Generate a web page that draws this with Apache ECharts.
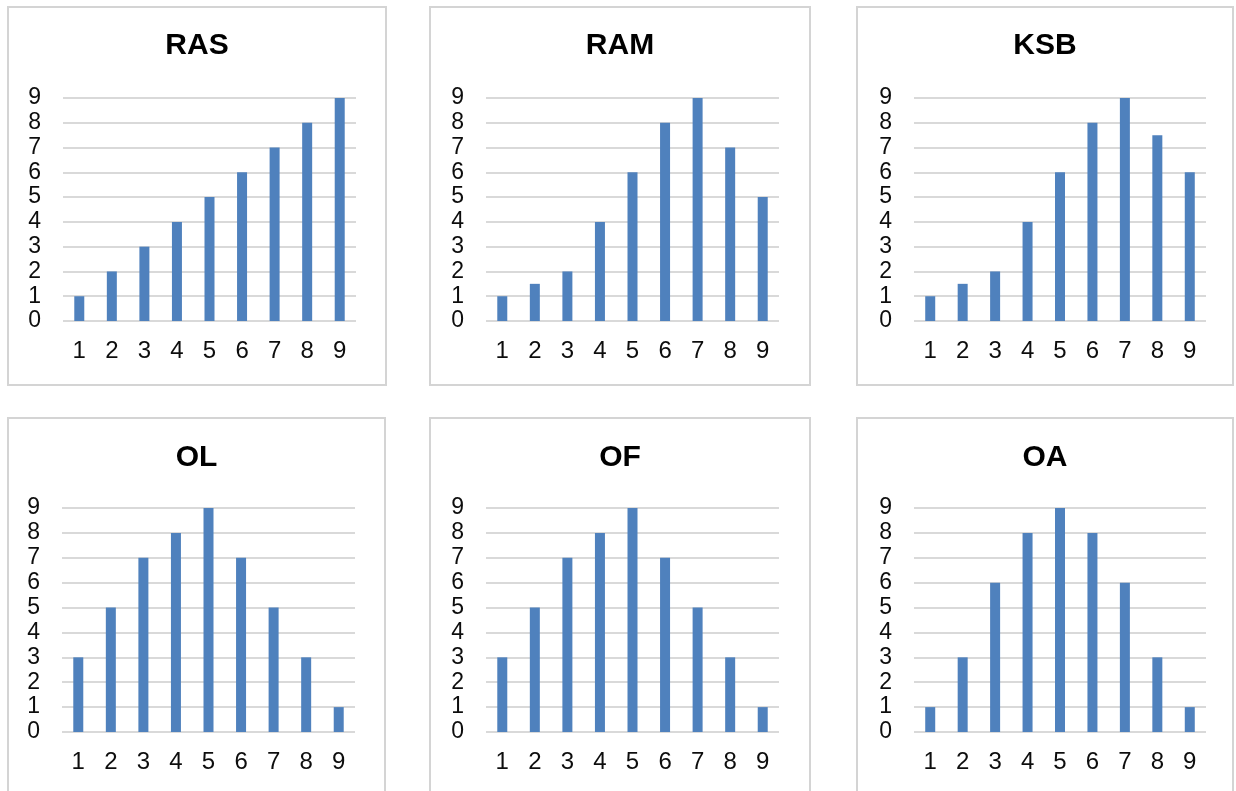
<!DOCTYPE html>
<html>
<head>
<meta charset="utf-8">
<script src="https://cdn.jsdelivr.net/npm/echarts@6/dist/echarts.min.js"></script>
<style>
html,body{margin:0;padding:0;background:#fff;}
#main{width:1236px;height:791px;}
</style>
</head>
<body>
<div id="main"></div>
<script>
var categories = ['1','2','3','4','5','6','7','8','9'];
var yTicks = [0,1,2,3,4,5,6,7,8,9];
var panelTitles = ['RAS','RAM','KSB','OL','OF','OA'];
var RAS = [1,2,3,4,5,6,7,8,9];
var RAM = [1,1.5,2,4,6,8,9,7,5];
var KSB = [1,1.5,2,4,6,8,9,7.5,6];
var OL  = [3,5,7,8,9,7,5,3,1];
var OF  = [3,5,7,8,9,7,5,3,1];
var OA  = [1,3,6,8,9,8,6,3,1];
var seriesData = [RAS,RAM,KSB,OL,OF,OA];

// layout (pixels)
var panels = [
  {x:8,   y:7,   w:378, h:378, gl:63,  gw:293, gt:98,  gh:223},
  {x:430, y:7,   w:380, h:378, gl:486, gw:293, gt:98,  gh:223},
  {x:857, y:7,   w:376, h:378, gl:914, gw:292, gt:98,  gh:223},
  {x:8,   y:418, w:377, h:390, gl:62,  gw:293, gt:508, gh:224},
  {x:430, y:418, w:380, h:390, gl:486, gw:293, gt:508, gh:224},
  {x:857, y:418, w:376, h:390, gl:914, gw:292, gt:508, gh:224}
];

var FONT = '"Liberation Sans", Arial, sans-serif';
var grids = [], xAxes = [], yAxes = [], series = [], graphics = [];
panels.forEach(function(p, i){
  graphics.push({type:'rect', silent:true, z:-1,
    shape:{x:p.x, y:p.y, width:p.w, height:p.h},
    style:{fill:'#fff', stroke:'#d4d4d4', lineWidth:2}});
  graphics.push({type:'text', silent:true,
    x: p.x + p.w/2, y: (i<3 ? 46 : 458),
    style:{text: panelTitles[i], font:'bold 30px ' + FONT, fill:'#000',
      align:'center', verticalAlign:'middle'}});
  grids.push({left:p.gl, top:p.gt, width:p.gw, height:p.gh, containLabel:false});
  xAxes.push({type:'category', gridIndex:i, data:categories, boundaryGap:true,
    axisLine:{show:false}, axisTick:{show:false},
    axisLabel:{fontSize:24, fontFamily:FONT, color:'#0d0d0d', margin:18}});
  yAxes.push({type:'value', gridIndex:i, min:yTicks[0], max:yTicks[yTicks.length-1], interval:1,
    axisLine:{show:false}, axisTick:{show:false},
    splitLine:{lineStyle:{color:'#d9d9d9', width:2}},
    axisLabel:{fontSize:23, fontFamily:FONT, color:'#0d0d0d', margin:22}});
  series.push({type:'bar', xAxisIndex:i, yAxisIndex:i, data:seriesData[i],
    barWidth:10, itemStyle:{color:'#4F81BD'}, silent:true});
});

var chart = echarts.init(document.getElementById('main'), null, {renderer:'canvas'});
chart.setOption({
  animation:false,
  backgroundColor:'#fff',
  graphic: graphics,
  grid: grids,
  xAxis: xAxes,
  yAxis: yAxes,
  series: series
});
</script>
</body>
</html>
